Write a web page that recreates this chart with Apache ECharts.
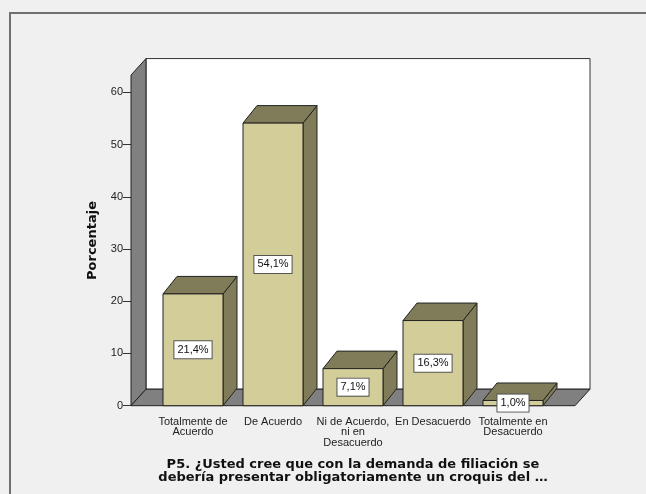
<!DOCTYPE html>
<html>
<head>
<meta charset="utf-8">
<script src="https://cdn.jsdelivr.net/npm/echarts@6/dist/echarts.min.js"></script>
<style>
  html, body { margin: 0; padding: 0; background: #f0f0f0; }
  #chart { width: 646px; height: 494px; }
</style>
</head>
<body>
<div id="chart"></div>
<script>
  // datos del gráfico
  const categories = [
    'Totalmente de\nAcuerdo',
    'De Acuerdo',
    'Ni de Acuerdo,\nni en\nDesacuerdo',
    'En Desacuerdo',
    'Totalmente en\nDesacuerdo'
  ]
  const percentages = [21.4, 54.1, 7.1, 16.3, 1.0]
  const yMax = 60
  const yInterval = 10
  const wallTop = 63.3 // hasta dónde sube la pared del fondo

  // efecto 3D
  const PAD = 22 // suelo y pared se salen de la banda de categorías
  const FLOOR_DX = 15
  const FLOOR_DY = -16.5
  const BAR_DX = 14
  const BAR_DY = -17.5
  const edge = '#222'
  const wallColor = '#808080'
  const frontColor = '#d3cd9a'
  const darkColor = '#807c5a'
  const boldFont = 'DejaVu Sans'

  const chartInstance = echarts.init(document.getElementById('chart'))

  function renderWalls (params, api) {
    const first = api.coord([0, 0])
    const last = api.coord([categories.length - 1, 0])
    const band = api.size([1, 0])[0]
    const xl = first[0] - band / 2 - PAD
    const xr = last[0] + band / 2 + PAD
    const y0 = first[1]
    const yt = api.coord([0, wallTop])[1]
    return {
      type: 'group',
      children: [
        {
          // pared del fondo
          type: 'rect',
          shape: { x: xl + FLOOR_DX, y: yt + FLOOR_DY, width: xr - xl, height: y0 - yt },
          style: { fill: '#fff', stroke: '#333', lineWidth: 1 }
        },
        {
          // pared izquierda
          type: 'polygon',
          shape: { points: [[xl, y0], [xl, yt], [xl + FLOOR_DX, yt + FLOOR_DY], [xl + FLOOR_DX, y0 + FLOOR_DY]] },
          style: { fill: wallColor, stroke: edge, lineWidth: 1 }
        },
        {
          // suelo
          type: 'polygon',
          shape: { points: [[xl, y0], [xr, y0], [xr + FLOOR_DX, y0 + FLOOR_DY], [xl + FLOOR_DX, y0 + FLOOR_DY]] },
          style: { fill: wallColor, stroke: edge, lineWidth: 1 }
        }
      ]
    }
  }

  function renderBar (params, api) {
    const idx = api.value(0)
    const val = api.value(1)
    const base = api.coord([idx, 0])
    const top = api.coord([idx, val])
    const w = api.size([1, 0])[0] * 0.75
    const x1 = base[0] - w / 2
    const x2 = base[0] + w / 2
    const y0 = base[1]
    const y1 = top[1]
    return {
      type: 'group',
      children: [
        {
          type: 'polygon',
          shape: { points: [[x2, y0], [x2 + BAR_DX, y0 + BAR_DY], [x2 + BAR_DX, y1 + BAR_DY], [x2, y1]] },
          style: { fill: darkColor, stroke: edge, lineWidth: 1 }
        },
        {
          type: 'polygon',
          shape: { points: [[x1, y1], [x2, y1], [x2 + BAR_DX, y1 + BAR_DY], [x1 + BAR_DX, y1 + BAR_DY]] },
          style: { fill: darkColor, stroke: edge, lineWidth: 1 }
        },
        {
          type: 'rect',
          shape: { x: x1, y: y1, width: w, height: y0 - y1 },
          style: { fill: frontColor, stroke: edge, lineWidth: 1 }
        },
        {
          // etiqueta del porcentaje
          type: 'text',
          x: base[0],
          y: (y0 + y1) / 2,
          style: {
            text: val.toFixed(1).replace('.', ',') + '%',
            align: 'center',
            verticalAlign: 'middle',
            fontFamily: 'Liberation Sans',
            fontSize: 11,
            lineHeight: 12,
            fill: '#111',
            backgroundColor: '#fff',
            borderColor: '#555',
            borderWidth: 1,
            padding: [3, 3, 2, 3]
          }
        }
      ]
    }
  }

  const option = {
    backgroundColor: '#f0f0f0',
    animation: false,
    textStyle: { fontFamily: 'Liberation Sans' },
    graphic: [
      {
        type: 'rect',
        shape: { x: 10, y: 13, width: 700, height: 600 },
        style: { fill: 'none', stroke: '#707070', lineWidth: 2 },
        silent: true
      }
    ],
    grid: {
      left: 153,
      right: 93,
      top: 92.3,
      bottom: 88.3
    },
    xAxis: {
      type: 'category',
      data: categories,
      name: 'P5. ¿Usted cree que con la demanda de filiación se\ndebería presentar obligatoriamente un croquis del …',
      nameLocation: 'middle',
      nameGap: 52,
      nameTextStyle: {
        fontFamily: boldFont,
        fontSize: 13,
        fontWeight: 'bold',
        color: '#111',
        lineHeight: 13.5
      },
      axisLine: { show: false },
      axisTick: { alignWithLabel: true, length: 8, lineStyle: { color: '#333' } },
      axisLabel: {
        interval: 0,
        margin: 11,
        fontSize: 11,
        lineHeight: 10.5,
        color: '#222'
      },
      splitLine: { show: false }
    },
    yAxis: {
      type: 'value',
      min: 0,
      max: yMax,
      interval: yInterval,
      offset: PAD,
      name: 'Porcentaje',
      nameLocation: 'middle',
      nameGap: 32,
      nameTextStyle: {
        fontFamily: boldFont,
        fontSize: 13,
        fontWeight: 'bold',
        color: '#111',
        padding: [0, 0, 0, 17]
      },
      axisLine: { show: false },
      axisTick: { show: true, length: 8, lineStyle: { color: '#333' } },
      axisLabel: { margin: 8, fontSize: 11, color: '#222' },
      splitLine: { show: false }
    },
    series: [
      {
        type: 'custom',
        renderItem: renderWalls,
        data: [[0, 0]],
        z: 1,
        silent: true
      },
      {
        type: 'custom',
        renderItem: renderBar,
        data: percentages.map((v, i) => [i, v]),
        z: 2
      }
    ]
  }
  chartInstance.setOption(option)
</script>
</body>
</html>
